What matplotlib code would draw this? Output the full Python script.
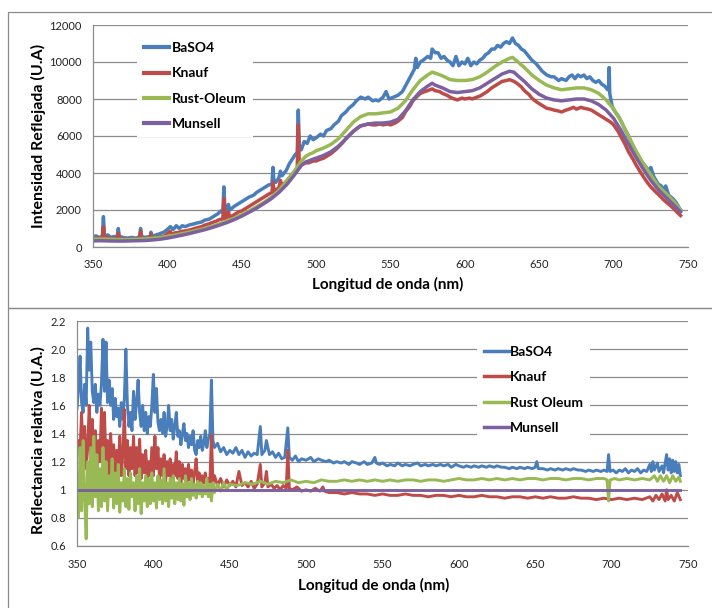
import matplotlib
matplotlib.use("Agg")
import matplotlib.pyplot as plt
from matplotlib.patches import Rectangle

plt.rcParams['font.family'] = ['Lato', 'DejaVu Sans']

# ---------------- Reflected intensity spectra (top panel) ----------------
baso4_wl = [350, 352, 354, 356.3, 357, 357.7, 360, 362, 364, 366.3, 367, 367.7, 370, 373, 376, 379,
            381.3, 382, 382.7, 385, 388, 388.6, 389, 389.4, 392, 395, 398, 400, 402, 404, 406, 408,
            410, 412, 415, 418, 420, 423, 425, 428, 430, 432, 434, 436, 437.3, 438, 438.7, 440, 441,
            442, 445, 448, 450, 452, 455, 458, 460, 462, 465, 468, 470.3, 471, 471.7, 473, 475, 476,
            477, 480, 482, 484, 486, 487.3, 488, 488.7, 490, 492, 494, 496, 498, 500, 503, 505, 507,
            510, 512, 515, 517, 520, 522, 525, 527, 530, 533, 535, 538, 540, 542, 545, 547, 549, 552,
            555, 558, 560, 562, 564, 566, 567, 568, 570, 572, 575, 577, 578, 580, 582, 584, 586, 588,
            590, 592, 594, 596, 598, 600, 602, 604, 606, 608, 610, 612, 614, 616, 618, 620, 622, 624,
            626, 628, 630, 632, 634, 636, 638, 640, 642, 645, 648, 650, 652, 655, 658, 660, 663, 665,
            668, 670, 672, 674, 676, 678, 680, 682, 684, 686, 688, 690, 692, 694, 696, 696.6, 697,
            697.4, 699, 701, 703, 705, 708, 710, 712, 715, 718, 720, 722, 724, 725, 727, 730, 732,
            734, 735, 737, 740, 742, 745]
baso4_int = [560, 600, 520, 560, 1640, 600, 650, 520, 560, 560, 1000, 580, 520, 480, 520, 480,
             560, 1000, 560, 520, 560, 600, 800, 600, 640, 720, 820, 950, 1100, 950, 1150, 1000,
             1150, 1100, 1200, 1250, 1300, 1350, 1450, 1500, 1600, 1700, 1800, 1950, 1850, 3250, 1950,
             2000, 2300, 2000, 2200, 2350, 2450, 2550, 2700, 2800, 2950, 3050, 3200, 3350, 3400, 4300,
             3500, 3500, 3750, 4100, 3850, 4150, 4500, 4750, 5000, 5100, 7400, 5400, 5250, 5700, 5600,
             6000, 5800, 5900, 6100, 6000, 6300, 6400, 6600, 6800, 7100, 7300, 7500, 7700, 7900, 8100,
             8000, 8100, 7900, 7950, 7900, 8100, 8400, 8000, 8100, 8200, 8400, 8700, 9000, 9300, 9600,
             10200, 9700, 10000, 10100, 10300, 10200, 10700, 10500, 10500, 10200, 10300, 10100, 10000,
             9800, 10300, 9800, 10000, 9900, 10200, 9800, 10000, 9900, 10100, 10200, 10400, 10500,
             10700, 10700, 10900, 10800, 11000, 11100, 11000, 11300, 11000, 10900, 10700, 10600, 10400,
             10100, 9900, 9700, 9500, 9300, 9200, 9200, 9000, 9100, 9000, 9200, 9300, 9100, 9300, 9200,
             9300, 9100, 9200, 9000, 8900, 9000, 8800, 8700, 8500, 8500, 9700, 8300, 7600, 7300, 7100,
             6800, 6300, 6000, 5600, 5100, 4700, 4500, 4300, 4100, 4300, 3800, 3400, 3300, 3100, 3300,
             2800, 2600, 2400, 2000]

knauf_wl = [350, 353, 356.3, 357, 357.7, 360, 363, 366.3, 367, 367.7, 370, 375, 380, 381.3, 382,
            382.7, 385, 388.6, 389, 389.4, 392, 395, 398, 400, 402, 403, 405, 408, 410, 413, 415,
            418, 420, 423, 425, 428, 430, 433, 435, 437.3, 438, 438.7, 440, 441, 442, 445, 448, 450,
            453, 455, 458, 460, 463, 465, 468, 470.3, 471, 471.7, 473, 475, 476, 477, 480, 483, 485,
            487.3, 488, 488.7, 490, 493, 495, 498, 500, 503, 505, 508, 510, 513, 515, 518, 520, 523,
            525, 528, 530, 533, 535, 538, 540, 543, 545, 548, 550, 553, 555, 558, 560, 563, 565, 568,
            570, 573, 575, 578, 580, 583, 585, 588, 590, 593, 595, 598, 600, 603, 605, 608, 610, 613,
            615, 618, 620, 623, 625, 628, 630, 633, 635, 638, 640, 643, 645, 648, 650, 653, 655, 658,
            660, 663, 665, 668, 670, 673, 675, 678, 680, 683, 685, 688, 690, 693, 695, 698, 700, 703,
            705, 708, 710, 713, 715, 718, 720, 723, 725, 728, 730, 733, 735, 738, 740, 743, 745]
knauf_int = [430, 470, 480, 1100, 480, 500, 450, 450, 750, 450, 420, 430, 440, 440, 850, 440, 450,
             470, 700, 470, 500, 540, 600, 720, 850, 680, 760, 800, 850, 880, 920, 990, 1040, 1100,
             1180, 1250, 1320, 1400, 1480, 1520, 2600, 1550, 1600, 1900, 1600, 1750, 1900, 1950, 2100,
             2200, 2350, 2450, 2600, 2700, 2850, 2950, 3500, 3000, 3100, 3200, 3600, 3300, 3550, 3850,
             4050, 4250, 6600, 4400, 4450, 4550, 4550, 4650, 4650, 4750, 4800, 4950, 5050, 5250, 5400,
             5650, 5850, 6100, 6250, 6450, 6550, 6600, 6650, 6600, 6600, 6650, 6600, 6650, 6600, 6700,
             6800, 7000, 7300, 7600, 7900, 8150, 8300, 8400, 8450, 8550, 8450, 8400, 8300, 8200, 8100,
             8000, 7950, 8050, 8000, 8050, 8000, 8100, 8150, 8300, 8400, 8600, 8700, 8850, 8950, 9000,
             9050, 8950, 8850, 8650, 8450, 8250, 8050, 7850, 7750, 7600, 7500, 7450, 7400, 7350, 7300,
             7400, 7450, 7550, 7450, 7550, 7500, 7450, 7400, 7250, 7150, 7000, 6900, 6750, 6600, 6250,
             5950, 5500, 5150, 4750, 4450, 4050, 3800, 3450, 3250, 3000, 2850, 2600, 2450, 2250, 2100,
             1850, 1700]

rust_wl = [350, 355, 360, 365, 370, 375, 380, 385, 390, 395, 400, 405, 410, 415, 420, 425, 430, 435,
           440, 445, 450, 455, 460, 465, 470, 475, 480, 485, 490, 493, 495, 498, 500, 505, 510, 515,
           520, 525, 530, 535, 540, 545, 550, 555, 560, 565, 570, 575, 578, 580, 585, 590, 595, 600,
           605, 610, 615, 620, 625, 630, 632, 635, 640, 645, 650, 655, 660, 665, 670, 675, 680, 685,
           690, 695, 700, 705, 710, 715, 720, 725, 730, 735, 740, 745]
rust_int = [420, 430, 420, 410, 400, 410, 420, 440, 470, 510, 570, 640, 720, 810, 900, 1000, 1120,
            1250, 1400, 1560, 1750, 1950, 2180, 2420, 2700, 3050, 3550, 4050, 4650, 4900, 5000, 5100,
            5200, 5350, 5550, 5850, 6300, 6750, 7050, 7200, 7200, 7250, 7300, 7500, 7900, 8500, 9000,
            9300, 9450, 9400, 9250, 9050, 9000, 9000, 9050, 9200, 9450, 9750, 10000, 10200, 10250,
            10050, 9700, 9300, 9000, 8750, 8600, 8500, 8550, 8600, 8600, 8500, 8300, 7950, 7450, 6800,
            6000, 5200, 4500, 3900, 3300, 2900, 2500, 2000]

munsell_wl = [350, 355, 360, 365, 370, 375, 380, 385, 390, 395, 400, 405, 410, 415, 420, 425, 430,
              435, 440, 445, 450, 455, 460, 465, 470, 475, 480, 485, 490, 493, 495, 498, 500, 505,
              510, 515, 520, 525, 530, 535, 540, 545, 550, 555, 560, 565, 570, 575, 578, 580, 585,
              590, 595, 600, 605, 610, 615, 620, 625, 630, 633, 635, 640, 645, 650, 655, 660, 665,
              670, 675, 680, 685, 690, 695, 700, 705, 710, 715, 720, 725, 730, 735, 740, 745]
munsell_int = [330, 340, 330, 320, 320, 330, 340, 350, 380, 420, 480, 560, 640, 730, 830, 930, 1050,
               1180, 1320, 1480, 1670, 1880, 2100, 2350, 2620, 2950, 3350, 3850, 4400, 4600, 4650,
               4750, 4800, 4950, 5150, 5450, 5850, 6250, 6550, 6650, 6700, 6700, 6750, 6900, 7350,
               7950, 8400, 8700, 8850, 8750, 8600, 8400, 8350, 8400, 8450, 8600, 8850, 9100, 9350,
               9500, 9450, 9300, 8950, 8550, 8250, 8050, 7950, 7900, 7950, 8000, 8000, 7900, 7700,
               7400, 6950, 6300, 5550, 4850, 4200, 3600, 3100, 2700, 2300, 1900]

# ---------------- Relative reflectance (bottom panel) ----------------
baso4_rel_wl = [350, 351, 352, 353, 354, 355, 356, 357, 358, 359, 360, 361, 362, 363, 364, 365, 366,
                367, 368, 369, 370, 371, 372, 373, 374, 375, 376, 377, 378, 379, 380, 381, 382, 383,
                384, 385, 386, 387, 388, 389, 390, 391, 392, 393, 394, 395, 396, 397, 398, 399, 400,
                401, 402, 403, 404, 405, 406, 407, 408, 409, 410, 411, 412, 413, 414, 415, 416, 417,
                418, 419, 420, 421, 422, 423, 424, 425, 426, 427, 428, 429, 430, 431, 432, 433, 434,
                435, 436, 437, 438, 439, 440, 442, 444, 446, 448, 450, 452, 454, 456, 458, 460, 462,
                464, 466, 468, 470, 471, 473, 474, 476, 478, 480, 482, 484, 486, 488, 489, 491, 493,
                495, 497, 500, 503, 505, 508, 510, 513, 515, 518, 520, 523, 525, 528, 530, 533, 535,
                538, 540, 543, 545, 546, 548, 550, 553, 555, 558, 560, 563, 565, 568, 570, 573, 575,
                578, 580, 583, 585, 588, 590, 593, 595, 598, 600, 603, 605, 608, 610, 613, 615, 618,
                620, 623, 625, 628, 630, 633, 635, 638, 640, 643, 645, 648, 650, 651, 652, 655, 658,
                660, 663, 665, 668, 670, 673, 675, 678, 680, 683, 685, 688, 690, 693, 695, 697, 698,
                699, 701, 703, 705, 707, 709, 711, 713, 715, 717, 719, 721, 723, 725, 726, 727, 728,
                730, 731, 733, 734, 736, 737, 738, 739, 740, 741, 742, 743, 744, 745]
baso4_rel = [1.58, 1.72, 1.95, 1.62, 1.55, 1.75, 1.6, 2.15, 1.85, 2.05, 1.7, 1.62, 1.75, 1.55, 1.68,
             1.6, 1.75, 2.07, 1.7, 2.05, 1.62, 1.78, 1.6, 1.72, 1.5, 1.65, 1.52, 1.58, 1.45, 1.62,
             1.5, 1.65, 2.0, 1.6, 1.45, 1.55, 1.42, 1.7, 1.5, 1.62, 1.78, 1.55, 1.45, 1.6, 1.42,
             1.55, 1.4, 1.52, 1.45, 1.6, 1.82, 1.55, 1.72, 1.48, 1.42, 1.5, 1.4, 1.55, 1.38, 1.45,
             1.6, 1.42, 1.5, 1.36, 1.45, 1.55, 1.38, 1.42, 1.32, 1.4, 1.47, 1.35, 1.4, 1.3, 1.38,
             1.32, 1.42, 1.28, 1.25, 1.35, 1.3, 1.38, 1.28, 1.33, 1.42, 1.3, 1.36, 1.4, 1.78, 1.35,
             1.3, 1.33, 1.27, 1.3, 1.25, 1.28, 1.26, 1.3, 1.25, 1.28, 1.23, 1.27, 1.24, 1.26, 1.25,
             1.45, 1.25, 1.28, 1.35, 1.25, 1.27, 1.23, 1.26, 1.22, 1.23, 1.44, 1.23, 1.21, 1.24, 1.2,
             1.22, 1.21, 1.23, 1.2, 1.22, 1.21, 1.2, 1.21, 1.19, 1.2, 1.19, 1.2, 1.18, 1.2, 1.19,
             1.18, 1.2, 1.18, 1.19, 1.23, 1.19, 1.18, 1.19, 1.17, 1.18, 1.17, 1.19, 1.17, 1.18, 1.17,
             1.18, 1.19, 1.17, 1.18, 1.17, 1.18, 1.17, 1.18, 1.17, 1.18, 1.16, 1.18, 1.17, 1.16, 1.17,
             1.16, 1.17, 1.16, 1.17, 1.16, 1.17, 1.16, 1.17, 1.16, 1.16, 1.15, 1.16, 1.15, 1.16, 1.15,
             1.16, 1.15, 1.16, 1.2, 1.15, 1.15, 1.14, 1.15, 1.14, 1.15, 1.14, 1.15, 1.14, 1.15, 1.14,
             1.14, 1.13, 1.14, 1.13, 1.14, 1.13, 1.14, 1.13, 1.25, 1.13, 1.14, 1.12, 1.14, 1.13, 1.15,
             1.12, 1.14, 1.13, 1.15, 1.12, 1.14, 1.13, 1.18, 1.13, 1.2, 1.14, 1.19, 1.13, 1.17, 1.12,
             1.25, 1.14, 1.22, 1.12, 1.21, 1.13, 1.2, 1.12, 1.18, 1.1]

knauf_rel_wl = [350, 351, 352, 353, 354, 355, 356, 357, 358, 359, 360, 361, 362, 363, 364, 365, 366,
                367, 368, 369, 370, 371, 372, 373, 374, 375, 376, 377, 378, 379, 380, 381, 382, 383,
                384, 385, 386, 387, 388, 389, 390, 391, 392, 393, 394, 395, 396, 397, 398, 399, 400,
                401, 402, 403, 404, 405, 406, 407, 408, 409, 410, 411, 412, 413, 414, 415, 416, 417,
                418, 419, 420, 421, 422, 423, 424, 425, 426, 427, 428, 429, 430, 431, 432, 433, 434,
                435, 436, 437, 438, 439, 440, 442, 444, 446, 448, 450, 452, 454, 456, 458, 460, 462,
                464, 466, 468, 470, 471, 473, 474, 475, 477, 479, 481, 483, 485, 487, 488, 489, 491,
                494, 497, 500, 503, 506, 509, 511, 512, 515, 520, 525, 530, 535, 540, 545, 550, 555,
                560, 565, 570, 575, 580, 585, 590, 595, 600, 605, 610, 615, 620, 625, 630, 635, 640,
                645, 650, 655, 660, 665, 670, 675, 680, 685, 690, 695, 700, 705, 710, 715, 720, 725,
                727, 729, 731, 733, 735, 736, 737, 739, 741, 743, 745]
knauf_rel = [1.25, 1.35, 1.28, 1.55, 1.2, 1.45, 1.15, 1.3, 1.6, 1.25, 1.5, 1.2, 1.42, 1.12, 1.35,
             1.2, 1.58, 1.25, 1.55, 1.15, 1.35, 1.1, 1.4, 1.2, 1.32, 1.12, 1.28, 1.15, 1.38, 1.1,
             1.25, 1.57, 1.15, 1.35, 1.1, 1.3, 1.15, 1.38, 1.1, 1.3, 1.12, 1.36, 1.08, 1.25, 1.12,
             1.28, 1.08, 1.2, 1.1, 1.3, 1.1, 1.38, 1.15, 1.3, 1.08, 1.22, 1.1, 1.25, 1.06, 1.2, 1.1,
             1.22, 1.05, 1.18, 1.1, 1.27, 1.08, 1.2, 1.05, 1.18, 1.08, 1.15, 1.05, 1.18, 1.07, 1.14,
             1.04, 1.12, 1.22, 1.06, 1.12, 1.03, 1.1, 1.05, 1.12, 1.04, 1.08, 1.05, 1.39, 1.05, 1.1,
             1.03, 1.08, 1.02, 1.07, 1.03, 1.06, 1.02, 1.13, 1.03, 1.05, 1.02, 1.06, 1.01, 1.04, 1.18,
             1.02, 1.05, 1.13, 1.02, 1.04, 1.01, 1.03, 1.0, 1.03, 1.01, 1.28, 1.01, 1.0, 1.02, 0.99,
             1.0, 0.99, 1.01, 0.99, 1.02, 0.99, 0.98, 0.98, 0.97, 0.98, 0.97, 0.97, 0.96, 0.97, 0.96,
             0.96, 0.97, 0.96, 0.96, 0.95, 0.96, 0.96, 0.95, 0.96, 0.95, 0.95, 0.96, 0.95, 0.95, 0.94,
             0.95, 0.95, 0.94, 0.95, 0.94, 0.95, 0.94, 0.94, 0.95, 0.94, 0.94, 0.93, 0.94, 0.93, 0.94,
             0.93, 0.94, 0.93, 0.95, 0.92, 0.96, 0.93, 0.97, 0.92, 1.0, 0.93, 0.96, 0.92, 0.98, 0.93]

rust_rel_wl = [350, 351, 352, 353, 354, 355, 356, 357, 358, 359, 360, 361, 362, 363, 364, 365, 366,
               367, 368, 369, 370, 371, 372, 373, 374, 375, 376, 377, 378, 379, 380, 381, 382, 383,
               384, 385, 386, 387, 388, 389, 390, 391, 392, 393, 394, 395, 396, 397, 398, 399, 400,
               401, 402, 403, 404, 405, 406, 407, 408, 409, 410, 411, 412, 413, 414, 415, 416, 417,
               418, 419, 420, 421, 422, 423, 424, 425, 426, 427, 428, 429, 430, 431, 432, 433, 434,
               435, 436, 437, 438, 439, 440, 442, 444, 446, 448, 450, 455, 460, 465, 470, 475, 480,
               485, 490, 495, 500, 505, 510, 515, 520, 525, 530, 535, 540, 545, 550, 555, 560, 565,
               570, 575, 580, 585, 590, 595, 600, 605, 610, 615, 620, 625, 630, 635, 640, 645, 650,
               655, 660, 665, 670, 675, 680, 685, 690, 695, 697, 698, 699, 702, 705, 710, 715, 720,
               725, 728, 730, 732, 734, 736, 738, 740, 742, 744, 745]
rust_rel = [1.05, 0.8, 1.3, 0.85, 1.35, 0.95, 0.65, 1.2, 0.9, 1.3, 0.88, 1.38, 0.95, 1.25, 0.85,
            1.15, 0.88, 1.3, 0.92, 1.2, 0.85, 1.1, 0.95, 1.22, 0.87, 1.12, 0.9, 1.18, 0.84, 1.05,
            0.92, 1.15, 0.88, 1.08, 0.86, 1.12, 0.95, 1.05, 0.85, 1.1, 0.9, 1.15, 0.83, 1.05, 0.92,
            1.1, 0.88, 1.08, 0.9, 1.12, 0.92, 1.05, 0.87, 1.1, 0.93, 1.07, 0.9, 1.15, 0.92, 1.05,
            0.88, 1.08, 0.94, 1.1, 0.9, 1.05, 0.93, 1.08, 0.92, 1.04, 0.89, 1.1, 0.95, 1.05, 0.93,
            1.08, 0.96, 1.04, 0.94, 1.06, 0.97, 1.05, 0.95, 1.03, 0.97, 1.08, 0.95, 1.04, 0.92, 1.05,
            0.98, 1.04, 0.99, 1.05, 1.0, 1.04, 1.03, 1.05, 1.04, 1.06, 1.04, 1.06, 1.05, 1.07, 1.05,
            1.06, 1.05, 1.07, 1.06, 1.06, 1.07, 1.06, 1.07, 1.06, 1.07, 1.06, 1.07, 1.06, 1.07, 1.07,
            1.06, 1.07, 1.07, 1.06, 1.07, 1.08, 1.07, 1.07, 1.08, 1.07, 1.08, 1.07, 1.08, 1.07, 1.08,
            1.08, 1.07, 1.08, 1.08, 1.07, 1.08, 1.08, 1.07, 1.08, 1.08, 1.07, 0.92, 1.07, 1.08, 1.07,
            1.08, 1.07, 1.08, 1.07, 1.1, 1.06, 1.1, 1.06, 1.1, 1.05, 1.1, 1.06, 1.09, 1.06]

munsell_rel_wl = [350, 745]
munsell_rel = [1.0, 1.0]

labels_top = ['BaSO4', 'Knauf', 'Rust-Oleum', 'Munsell']
labels_bottom = ['BaSO4', 'Knauf', 'Rust Oleum', 'Munsell']
colors = ['#4a7ebb', '#be4b48', '#98b954', '#7d60a0']

GRID = '#8c8c8c'
W, H = 712, 608

fig = plt.figure(figsize=(W / 100, H / 100), dpi=100)


def px_axes(left, top, right, bottom):
    return fig.add_axes([left / W, 1 - bottom / H, (right - left) / W, (bottom - top) / H])


# chart frames
fig.patches.append(Rectangle((8 / W, 1 - 308 / H), 1.0, (308 - 12) / H, transform=fig.transFigure,
                             fill=False, edgecolor='#8a8a8a', lw=0.9))
fig.patches.append(Rectangle((8 / W, -0.1), 1.0, 0.1 + (1 - 308 / H), transform=fig.transFigure,
                             fill=False, edgecolor='#8a8a8a', lw=0.9))


def style(ax, ymin, ymax, ystep, fmt):
    ax.set_xlim(350, 750)
    ax.set_ylim(ymin, ymax)
    ax.set_xticks(range(350, 751, 50))
    n = int(round((ymax - ymin) / ystep))
    yt = [ymin + i * ystep for i in range(n + 1)]
    ax.set_yticks(yt)
    ax.set_yticklabels([fmt(v) for v in yt])
    ax.grid(axis='y', color=GRID, lw=0.9)
    ax.set_axisbelow(True)
    for s in ('top', 'right'):
        ax.spines[s].set_visible(False)
    for s in ('left', 'bottom'):
        ax.spines[s].set_color(GRID)
        ax.spines[s].set_linewidth(0.9)
    ax.tick_params(length=0, labelsize=8, colors='#222222')
    ax.tick_params(axis='x', pad=9)
    ax.tick_params(axis='y', pad=8)


def rel_fmt(v):
    return '1' if abs(v - 1) < 1e-9 else f'{v:.1f}'


# top panel
ax1 = px_axes(93, 25, 688, 247)
series_top = [(baso4_wl, baso4_int), (knauf_wl, knauf_int), (rust_wl, rust_int), (munsell_wl, munsell_int)]
for (x, y), c, lab in zip(series_top, colors, labels_top):
    ax1.plot(x, y, color=c, lw=2.5, label=lab, solid_joinstyle='round')
style(ax1, 0, 12000, 2000, lambda v: f'{int(v)}')
leg1 = ax1.legend(loc='upper left', bbox_to_anchor=(0.062, 0.985), frameon=True, fancybox=False,
                  edgecolor='none', facecolor='white', framealpha=1, borderpad=0.5,
                  handlelength=1.8, handletextpad=0.2, labelspacing=0.95,
                  prop={'weight': 'bold', 'size': 10})
for h in leg1.get_lines():
    h.set_linewidth(3)
fig.text(388 / W, 1 - 284 / H, 'Longitud de onda (nm)', ha='center', va='center',
         fontsize=11, fontweight='bold')
fig.text(38 / W, 1 - 136 / H, 'Intensidad Reflejada (U.A)', ha='center', va='center',
         rotation=90, fontsize=11.5, fontweight='bold')

# bottom panel
ax2 = px_axes(77, 321, 688, 546)
series_bottom = [(baso4_rel_wl, baso4_rel), (knauf_rel_wl, knauf_rel), (rust_rel_wl, rust_rel),
                 (munsell_rel_wl, munsell_rel)]
for (x, y), c, lab in zip(series_bottom, colors, labels_bottom):
    ax2.plot(x, y, color=c, lw=2.1, label=lab, solid_joinstyle='round')
style(ax2, 0.6, 2.2, 0.2, rel_fmt)
leg2 = ax2.legend(loc='upper left', bbox_to_anchor=(0.643, 0.95), frameon=True, fancybox=False,
                  edgecolor='none', facecolor='white', framealpha=1, borderpad=0.5,
                  handlelength=1.8, handletextpad=0.1, labelspacing=0.95,
                  prop={'weight': 'bold', 'size': 10})
for h in leg2.get_lines():
    h.set_linewidth(2.5)
fig.text(374 / W, 1 - 585 / H, 'Longitud de onda (nm)', ha='center', va='center',
         fontsize=11, fontweight='bold')
fig.text(38 / W, 1 - 440 / H, 'Reflectancia relativa (U.A.)', ha='center', va='center',
         rotation=90, fontsize=11.5, fontweight='bold')

fig.savefig('out.png', dpi=100)
